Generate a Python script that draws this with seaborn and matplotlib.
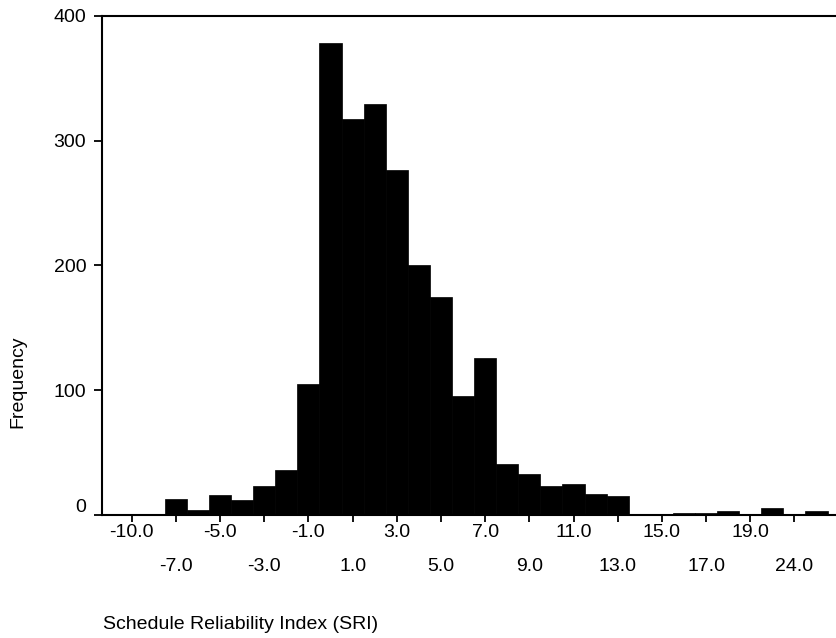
import matplotlib
matplotlib.use("Agg")
import matplotlib.pyplot as plt
import matplotlib.transforms as mtransforms
import pandas as pd
import seaborn as sns

# SRI bins (one bar per bin) and their observed frequencies
sri_bins = [
    "-10.0", "-8.0", "-7.0", "-6.0", "-5.0", "-4.0", "-3.0", "-2.0",
    "-1.0", "0.0", "1.0", "2.0", "3.0", "4.0", "5.0", "6.0",
    "7.0", "8.0", "9.0", "10.0", "11.0", "12.0", "13.0", "14.0",
    "15.0", "16.0", "17.0", "18.0", "19.0", "21.0", "24.0", "26.0",
]
frequency = [
    1, 1, 13, 4, 16, 12, 23, 36,
    105, 378, 317, 329, 276, 200, 175, 95,
    126, 41, 33, 23, 25, 17, 15, 1,
    1, 2, 2, 3, 1, 6, 1, 3,
]
y_ticks = [0, 100, 200, 300, 400]
x_title = "Schedule Reliability Index (SRI)"
y_title = "Frequency"

sns.set_style("ticks")
plt.rcParams["font.family"] = ["Liberation Sans", "DejaVu Sans"]
plt.rcParams["text.color"] = "black"
plt.rcParams["axes.labelcolor"] = "black"

W, H, DPI = 836, 638, 100
fig = plt.figure(figsize=(W / DPI, H / DPI), dpi=DPI)
fig.patch.set_facecolor("white")

# axes box in pixels: left 101.5, bottom 515, top 15.7, right beyond the canvas
left_px, right_px, top_px, bottom_px = 101.5, 840.0, 15.7, 515.0
ax = fig.add_axes([left_px / W, (H - bottom_px) / H,
                   (right_px - left_px) / W, (bottom_px - top_px) / H])

df = pd.DataFrame({"SRI": sri_bins, "Frequency": frequency})
sns.barplot(data=df, x="SRI", y="Frequency", order=sri_bins, color="black",
            saturation=1, width=1.0, edgecolor="black", linewidth=0.5,
            errorbar=None, ax=ax)

# category spacing ~22.09 px, first bin centred at 131.7 px
step = 22.09
x0 = -(131.7 - left_px) / step
x1 = (right_px - 131.7) / step
ax.set_xlim(x0, x1)
ax.set_ylim(0, 400)

# staggered x labels: every other bin gets a tick, rows alternate
top_pos = list(range(0, len(sri_bins), 4))
bot_pos = list(range(2, len(sri_bins), 4))
ax.set_xticks(top_pos, [sri_bins[i] for i in top_pos])
ax.set_xticks(bot_pos, [sri_bins[i] for i in bot_pos], minor=True)
ax.set_yticks(y_ticks, [str(v) for v in y_ticks])

lab_fs = 14
ax.tick_params(axis="x", which="both", direction="out", length=5, width=1.3,
               color="black", labelsize=lab_fs, labelcolor="black")
ax.tick_params(axis="x", which="major", pad=1.5)
ax.tick_params(axis="x", which="minor", pad=26)
ax.tick_params(axis="y", direction="out", length=6, width=1.3,
               color="black", labelsize=lab_fs, labelcolor="black", pad=5)

for side in ("left", "bottom", "top"):
    ax.spines[side].set_linewidth(1.5)
    ax.spines[side].set_color("black")
ax.spines["right"].set_visible(False)

# the zero label sits a little above its tick
zero_lab = ax.get_yticklabels()[0]
zero_lab.set_transform(zero_lab.get_transform() +
                       mtransforms.ScaledTranslation(0, 9 / DPI, fig.dpi_scale_trans))

ax.set_xlabel(x_title, fontsize=lab_fs, ha="left", va="baseline", color="black")
ax.xaxis.set_label_coords(0.0025, (bottom_px - 629) / (bottom_px - top_px))
ax.set_ylabel(y_title, fontsize=lab_fs, ha="center", va="center", color="black")
ax.yaxis.set_label_coords((18 - left_px) / (right_px - left_px),
                          (bottom_px - 382) / (bottom_px - top_px))

fig.savefig("out.png", dpi=DPI, facecolor="white")
